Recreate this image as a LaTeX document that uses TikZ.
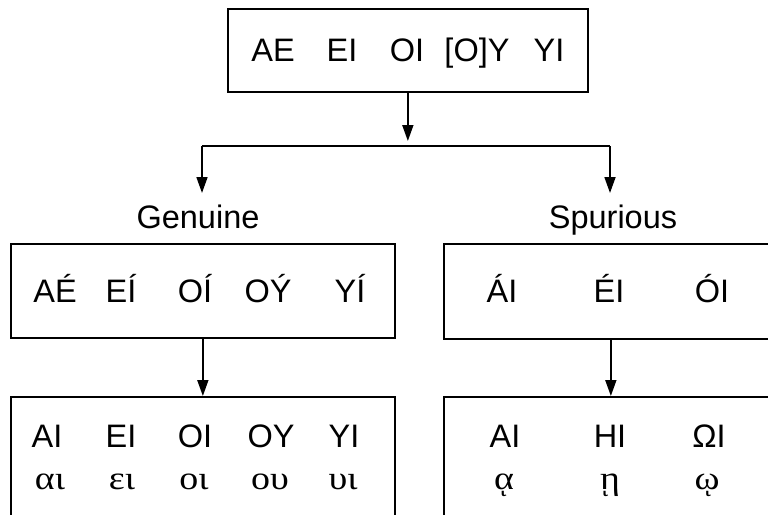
\documentclass[tikz,border=0pt]{standalone}
\usepackage{fontspec}
\setmainfont{Liberation Sans}
\newfontfamily\grk{Liberation Serif}
\usetikzlibrary{arrows.meta}
\tikzset{
  box/.style={draw, line width=1.7pt, rectangle, inner sep=0pt, anchor=north west},
  lat/.style={anchor=base, inner sep=0pt, font=\fontsize{32.5}{38}\selectfont},
  gk/.style={anchor=base, inner sep=0pt, xscale=1.15, font=\grk\fontsize{33}{38}\selectfont},
  conn/.style={line width=1.7pt},
  arr/.style={line width=1.7pt, -{Triangle[length=16pt,width=11pt]}},
}
\begin{document}
\begin{tikzpicture}[x=1pt,y=-1pt]
\useasboundingbox (0,0) rectangle (768,514);
\clip (0,0) rectangle (768,514);

% boxes
\node[box, minimum width=360pt, minimum height=83pt] (top) at (227,8) {};
\node[box, minimum width=384pt, minimum height=94pt] (gen) at (10,243) {};
\node[box, minimum width=334pt, minimum height=95pt] (spu) at (443,243) {};
\node[box, minimum width=384pt, minimum height=150pt] (genb) at (10,396) {};
\node[box, minimum width=334pt, minimum height=150pt] (spub) at (443,396) {};

% top row
\node[lat] (t1) at (273,61) {AE};
\node[lat] (t2) at (342,61) {EI};
\node[lat] (t3) at (407,61) {OI};
\node[lat] (t4) at (477,61) {[O]Y};
\node[lat] (t5) at (549,61) {YI};

% labels
\node[lat] (lg) at (198,228) {Genuine};
\node[lat] (ls) at (613,228) {Spurious};

% genuine row
\node[lat] (g1) at (55,302) {AÉ};
\node[lat] (g2) at (121,302) {EÍ};
\node[lat] (g3) at (195,302) {OÍ};
\node[lat] (g4) at (268,302) {OÝ};
\node[lat] (g5) at (350,302) {YÍ};

% spurious row
\node[lat] (s1) at (502,302) {ÁI};
\node[lat] (s2) at (609,302) {ÉI};
\node[lat] (s3) at (712,302) {ÓI};

% genuine result
\node[lat] (b1) at (47,447) {AI};
\node[lat] (b2) at (121,447) {EI};
\node[lat] (b3) at (195,447) {OI};
\node[lat] (b4) at (271,447) {OY};
\node[lat] (b5) at (344,447) {YI};
\node[gk] (c1) at (50,489) {αι};
\node[gk] (c2) at (122,489) {ει};
\node[gk] (c3) at (194,489) {οι};
\node[gk] (c4) at (270,489) {ου};
\node[gk] (c5) at (343,489) {υι};

% spurious result
\node[lat] (r1) at (505,447) {AI};
\node[lat] (r2) at (610,447) {HI};
\node[lat] (r3) at (709,447) {ΩI};
\node[gk] (q1) at (504,489) {ᾳ};
\node[gk] (q2) at (610,489) {ῃ};
\node[gk] (q3) at (707,489) {ῳ};

% connectors
\coordinate (jl) at (202,146);
\coordinate (jr) at (610,146);
\coordinate (jm) at (407,146);
\draw[conn] (jl) -- (jr);
\draw[arr] (top.south) -- ([yshift=5pt]top.south |- jm);
\draw[arr] (jl) -- ([yshift=-47pt]jl);
\draw[arr] (jr) -- ([yshift=-47pt]jr);
\draw[arr] (gen.south) -- (genb.north);
\draw[arr] (spu.south) -- (spub.north);
\end{tikzpicture}
\end{document}
